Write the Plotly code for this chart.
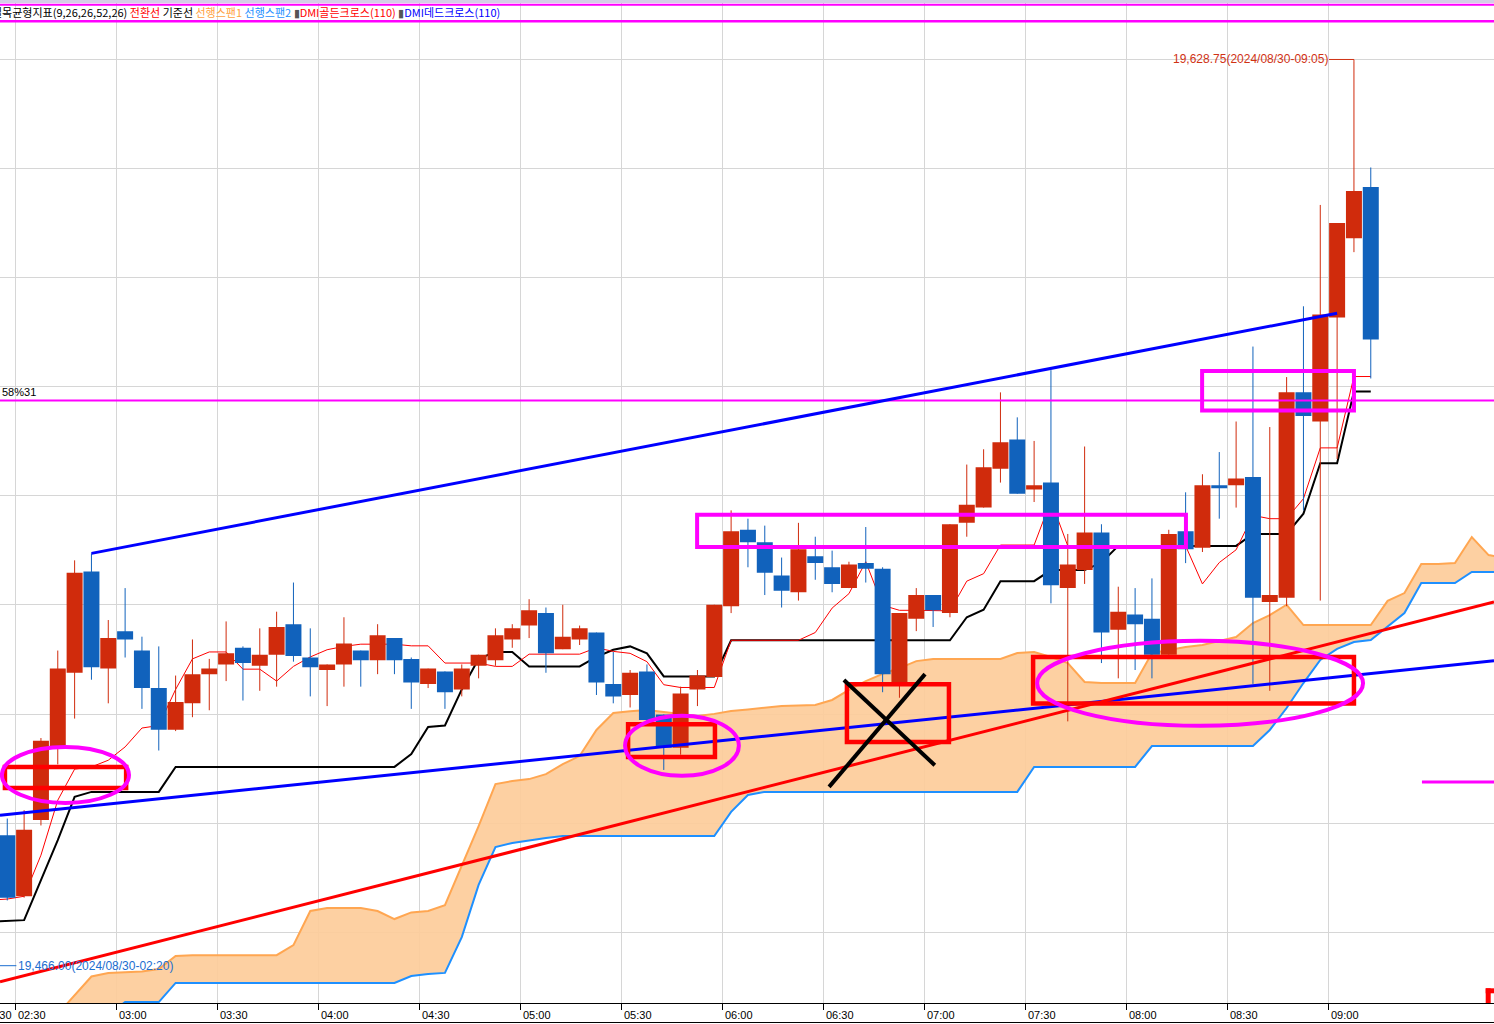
import plotly.graph_objects as go


def clock_range(start, n, step=5):
    h, m = map(int, start.split(":"))
    base = h * 60 + m
    return [f"{(base + i * step) // 60:02d}:{(base + i * step) % 60:02d}" for i in range(n)]


# ---------------- data ----------------
candle_times = clock_range("02:20", 83)   # 02:20 ... 09:10 (5-minute candles)
opens = [
    19470.00, 19489.50, 19478.50, 19492.25, 19505.50, 19518.75, 19537.00, 19519.50, 19526.25, 19522.75,
    19516.00, 19508.50, 19513.25, 19518.50, 19520.25, 19523.25, 19520.00, 19522.00, 19527.50, 19521.50,
    19519.25, 19520.25, 19522.75, 19521.00, 19525.00, 19521.25, 19516.75, 19519.00, 19515.75, 19520.00,
    19521.00, 19524.75, 19527.25, 19529.50, 19523.00, 19524.75, 19526.00, 19516.75, 19514.75, 19519.00,
    19511.25, 19505.25, 19515.75, 19518.00, 19530.75, 19544.50, 19542.25, 19536.25, 19533.25, 19539.75,
    19537.75, 19534.00, 19538.50, 19537.50, 19517.00, 19528.50, 19532.75, 19529.50, 19545.75, 19548.50,
    19555.50, 19560.75, 19551.75, 19553.00, 19534.00, 19537.25, 19544.00, 19526.50, 19529.25, 19528.50,
    19522.00, 19544.25, 19541.25, 19552.50, 19552.50, 19554.00, 19531.50, 19532.25, 19569.25, 19564.00,
    19582.75, 19597.00, 19606.25]
highs = [
    19480.25, 19492.50, 19494.00, 19507.00, 19522.75, 19539.00, 19540.25, 19528.25, 19534.00, 19525.25,
    19523.50, 19518.25, 19524.75, 19521.25, 19528.00, 19523.50, 19526.75, 19529.75, 19535.00, 19526.75,
    19520.25, 19528.75, 19522.75, 19527.50, 19525.00, 19521.50, 19519.50, 19519.00, 19520.25, 19522.00,
    19526.75, 19527.50, 19532.00, 19530.50, 19531.00, 19527.25, 19526.00, 19522.50, 19519.25, 19520.25,
    19511.25, 19516.25, 19519.25, 19531.00, 19548.00, 19546.50, 19545.25, 19539.50, 19545.75, 19543.25,
    19540.75, 19538.75, 19545.00, 19537.75, 19529.50, 19534.00, 19532.75, 19545.50, 19556.25, 19559.00,
    19569.25, 19564.75, 19560.50, 19573.25, 19543.75, 19559.50, 19545.50, 19534.25, 19534.00, 19535.75,
    19544.50, 19551.25, 19554.50, 19558.50, 19564.00, 19577.50, 19563.00, 19572.00, 19584.75, 19603.00,
    19599.75, 19628.75, 19609.75]
lows = [
    19466.00, 19477.75, 19478.25, 19491.25, 19502.25, 19510.50, 19517.50, 19513.25, 19521.50, 19512.25,
    19504.75, 19508.25, 19510.75, 19512.00, 19517.25, 19513.75, 19515.50, 19516.25, 19520.75, 19514.50,
    19512.75, 19516.25, 19516.25, 19518.50, 19518.50, 19512.25, 19516.00, 19512.25, 19514.50, 19517.75,
    19520.00, 19523.25, 19525.00, 19518.75, 19523.00, 19523.75, 19514.75, 19513.25, 19512.50, 19509.50,
    19501.25, 19504.00, 19512.75, 19518.00, 19529.50, 19537.75, 19532.75, 19530.50, 19531.75, 19535.50,
    19533.25, 19534.00, 19535.00, 19515.25, 19514.25, 19526.25, 19527.00, 19528.75, 19543.25, 19548.50,
    19553.00, 19551.00, 19549.50, 19531.25, 19510.00, 19534.75, 19520.50, 19517.75, 19519.25, 19517.75,
    19522.00, 19538.50, 19540.50, 19546.50, 19548.50, 19516.75, 19515.50, 19530.75, 19548.00, 19531.75,
    19557.25, 19594.50, 19571.75]
closes = [
    19478.75, 19478.25, 19490.50, 19506.50, 19519.50, 19536.75, 19519.75, 19525.00, 19524.75, 19516.00,
    19508.50, 19513.50, 19518.50, 19519.50, 19522.25, 19520.50, 19522.00, 19527.00, 19521.75, 19519.75,
    19520.25, 19524.00, 19521.00, 19525.50, 19521.00, 19517.00, 19519.50, 19515.25, 19519.50, 19522.00,
    19525.50, 19526.75, 19530.00, 19522.25, 19525.25, 19526.75, 19517.00, 19514.50, 19518.75, 19510.25,
    19505.25, 19515.00, 19518.25, 19531.00, 19544.25, 19542.25, 19536.75, 19533.50, 19541.00, 19538.50,
    19534.75, 19538.25, 19537.50, 19518.50, 19529.50, 19532.75, 19530.00, 19545.50, 19549.00, 19555.75,
    19560.25, 19551.00, 19552.50, 19534.50, 19538.25, 19544.00, 19526.00, 19529.75, 19527.50, 19522.00,
    19543.75, 19541.00, 19552.50, 19552.00, 19553.75, 19532.25, 19532.75, 19569.25, 19565.00, 19583.25,
    19599.75, 19605.50, 19578.75]

line_times = clock_range("02:20", 83)     # conversion / base line points
tenkan = [
    19477.8,
    19478.0, 19478.5, 19485.9, 19495.8, 19501.4, 19501.8, 19503.0, 19505.4, 19508.8, 19509.25,
    19515.75, 19521.25, 19522.5, 19522.5, 19519.4, 19519.4, 19517.25, 19519.9, 19521.6, 19522.9,
    19523.5, 19523.9, 19523.9, 19523.9, 19523.6, 19523.6, 19520.5, 19520.5, 19520.5, 19519.9,
    19519.9, 19522.1, 19522.1, 19522.1, 19522.1, 19523.25, 19522.6, 19522.25, 19520.75, 19516.6,
    19516.1, 19516.1, 19516.1, 19524.6, 19524.6, 19524.6, 19524.6, 19524.6, 19526.0, 19530.4,
    19533.0, 19538.75, 19530.9, 19530.0, 19530.0, 19530.0, 19529.9, 19535.25, 19536.6, 19541.75,
    19541.75, 19541.75, 19549.75, 19541.6, 19541.6, 19541.6, 19541.6, 19541.6, 19541.6, 19541.6,
    19541.6, 19534.75, 19538.6, 19540.9, 19547.1, 19546.5, 19546.5, 19550.1, 19559.25, 19559.25,
    19572.1, 19572.1]
kijun = [
    19473.9,
    19474.05, 19474.2, 19481.4, 19488.6, 19496.4, 19497.3, 19497.3, 19497.3, 19497.3, 19497.3,
    19501.8, 19501.8, 19501.8, 19501.8, 19501.8, 19501.8, 19501.8, 19501.8, 19501.8, 19501.8,
    19501.8, 19501.8, 19501.8, 19501.8, 19504.1, 19509.0, 19509.25, 19515.75, 19521.25, 19522.5,
    19522.5, 19519.9, 19519.9, 19519.9, 19519.9, 19521.6, 19522.9, 19523.5, 19522.25, 19518.1,
    19518.1, 19518.1, 19518.1, 19524.6, 19524.6, 19524.6, 19524.6, 19524.6, 19524.6, 19524.6,
    19524.6, 19524.6, 19524.6, 19524.6, 19524.6, 19524.6, 19524.6, 19528.75, 19530.1, 19535.25,
    19535.25, 19535.25, 19537.25, 19537.25, 19537.25, 19538.6, 19541.6, 19541.6, 19541.6, 19541.6,
    19541.6, 19541.6, 19541.6, 19541.6, 19543.75, 19543.75, 19543.75, 19547.4, 19556.5, 19556.5,
    19569.4, 19569.4]

span_times = clock_range("02:40", 87)     # leading spans (shifted forward)
span1 = [
    19457.3, 19460.6, 19464.05, 19464.7, 19464.85, 19464.95, 19465.4, 19467.75, 19467.9, 19467.9,
    19467.9, 19467.9, 19467.9, 19467.9, 19469.7, 19475.85, 19476.4, 19476.4, 19476.4, 19475.85,
    19474.4, 19475.6, 19475.85, 19476.9, 19483.95, 19491.15, 19498.7, 19499.25, 19499.6, 19500.5,
    19502.3, 19503.75, 19508.45, 19511.5, 19511.8, 19512.05, 19511.7, 19511.35, 19510.95, 19511.35,
    19511.85, 19512.15, 19512.5, 19512.75, 19512.85, 19512.95, 19513.85, 19515.65, 19517.25, 19518.55,
    19519.6, 19520.85, 19521.25, 19521.25, 19521.25, 19521.25, 19521.25, 19522.3, 19522.5, 19521.6,
    19520.5, 19517.1, 19516.9, 19516.9, 19516.9, 19522.3, 19522.85, 19523.4, 19523.75, 19524.45,
    19525.2, 19527.7, 19529.15, 19531.0, 19527.35, 19527.35, 19527.35, 19527.35, 19527.35, 19531.7,
    19533.1, 19538.35, 19538.35, 19538.5, 19543.2, 19539.95, 19539.4]
span2 = [
    19452.6, 19453.5, 19455.3, 19457.1, 19459.45, 19459.45, 19459.45, 19462.9, 19462.9, 19462.9,
    19462.9, 19462.9, 19462.9, 19462.9, 19462.9, 19462.9, 19462.9, 19462.9, 19462.9, 19462.9,
    19462.9, 19464.15, 19464.5, 19464.7, 19471.15, 19480.55, 19487.35, 19488.1, 19488.6, 19489.0,
    19489.35, 19489.35, 19489.35, 19489.35, 19489.35, 19489.35, 19489.35, 19489.35, 19489.35, 19489.35,
    19493.7, 19496.75, 19497.3, 19497.3, 19497.3, 19497.3, 19497.3, 19497.3, 19497.3, 19497.3,
    19497.3, 19497.3, 19497.3, 19497.3, 19497.3, 19497.3, 19497.3, 19497.3, 19501.8, 19501.8,
    19501.8, 19501.8, 19501.8, 19501.8, 19501.8, 19505.55, 19505.55, 19505.55, 19505.55, 19505.55,
    19505.55, 19505.55, 19508.45, 19512.4, 19516.9, 19521.05, 19523.05, 19524.3, 19524.65, 19527.0,
    19529.5, 19534.9, 19534.9, 19534.9, 19536.9, 19536.9, 19536.9]

tick_labels = ["02:30", "03:00", "03:30", "04:00", "04:30", "05:00", "05:30", "06:00",
               "06:30", "07:00", "07:30", "08:00", "08:30", "09:00"]
date_label = "08/30"
high_value, high_time = 19628.75, "09:05"
low_value, low_time = 19466.00, "02:20"
level_value, level_text = 19567.8, "58%31"

# ---------------- helpers ----------------
ORIGIN = 2 * 60 + 30  # 02:30 as axis zero (minutes)


def tm(s, extra=0.0):
    h, m = map(int, s.split(":"))
    return h * 60 + m - ORIGIN + extra


def ctr(s):
    return tm(s, 2.5)


def hm(h, m):
    return h * 60 + m - ORIGIN


X_RANGE = [-4.663, 439.1]
Y_RANGE = [19459.28, 19639.91]
BODY_W = 4.75

RED = "#D02B0C"
BLUE = "#1162BC"

fig = go.Figure()

# cloud
sx = [ctr(t) for t in span_times]
fig.add_trace(go.Scatter(x=sx, y=span2, mode="lines", line=dict(color="#1E90FF", width=2),
                         hoverinfo="skip"))
fig.add_trace(go.Scatter(x=sx, y=span1, mode="lines", line=dict(color="#FFA651", width=2),
                         fill="tonexty", fillcolor="rgba(253,204,155,0.93)", hoverinfo="skip"))

# conversion & base lines
lx = [ctr(t) for t in line_times]
fig.add_trace(go.Scatter(x=lx, y=kijun, mode="lines", line=dict(color="#000000", width=2),
                         hoverinfo="skip"))
fig.add_trace(go.Scatter(x=lx, y=tenkan, mode="lines", line=dict(color="#FF0000", width=1),
                         hoverinfo="skip"))

# candles
for up, col in ((True, RED), (False, BLUE)):
    wx, wy, bx, by = [], [], [], []
    for t, o, h, l, c in zip(candle_times, opens, highs, lows, closes):
        if (c >= o) != up:
            continue
        x = ctr(t)
        wx += [x, x, None]
        wy += [l, h, None]
        lo, hi = min(o, c), max(o, c)
        if hi - lo < 0.3:
            hi = lo + 0.3
        x0, x1 = x - BODY_W / 2, x + BODY_W / 2
        bx += [x0, x1, x1, x0, x0, None]
        by += [lo, lo, hi, hi, lo, None]
    fig.add_trace(go.Scatter(x=wx, y=wy, mode="lines", line=dict(color=col, width=1),
                             hoverinfo="skip"))
    fig.add_trace(go.Scatter(x=bx, y=by, mode="lines", line=dict(color=col, width=0),
                             fill="toself", fillcolor=col, hoverinfo="skip"))

# high / low markers
hx = ctr(high_time)
fig.add_trace(go.Scatter(x=[hm(9, 0.1), hx, hx], y=[high_value + 0.45, high_value + 0.45, high_value],
                         mode="lines", line=dict(color="#D03214", width=1), hoverinfo="skip"))
fig.add_trace(go.Scatter(x=[ctr(low_time), hm(2, 30.2)], y=[low_value, low_value],
                         mode="lines", line=dict(color="#1C6ED0", width=1), hoverinfo="skip"))

shapes = []


def line(x0, y0, x1, y1, color, width):
    shapes.append(dict(type="line", xref="x", yref="y", x0=x0, y0=y0, x1=x1, y1=y1,
                       line=dict(color=color, width=width), layer="above"))


def rect(x0, y0, x1, y1, color, width, kind="rect"):
    shapes.append(dict(type=kind, xref="x", yref="y", x0=x0, y0=y0, x1=x1, y1=y1,
                       line=dict(color=color, width=width), fillcolor="rgba(0,0,0,0)", layer="above"))


# horizontal level lines
line(X_RANGE[0], level_value, X_RANGE[1], level_value, "#FF00FF", 2)
line(X_RANGE[0], 19639.05, X_RANGE[1], 19639.05, "#FF00FF", 2)
line(X_RANGE[0], 19636.1, X_RANGE[1], 19636.1, "#FF00FF", 2.5)
line(hm(9, 27.7), 19499.1, X_RANGE[1], 19499.1, "#FF00FF", 3)

# trend lines
line(hm(2, 52.5), 19540.25, hm(9, 2.5), 19583.5, "#0000FF", 3)
line(X_RANGE[0], 19493.1, X_RANGE[1], 19520.9, "#0000FF", 3)
line(X_RANGE[0], 19463.1, X_RANGE[1], 19531.5, "#FF0000", 3)

# boxes
rect(hm(2, 26.8), 19498.0, hm(3, 2.8), 19501.8, "#FF0000", 4.5)
rect(hm(5, 31.9), 19503.6, hm(5, 57.7), 19509.5, "#FF0000", 4.5)
rect(hm(6, 36.9), 19506.3, hm(7, 7.2), 19516.7, "#FF0000", 4.5)
rect(hm(7, 32.2), 19513.2, hm(9, 7.5), 19521.6, "#FF0000", 4.5)
rect(hm(5, 52.4), 19541.4, hm(8, 17.6), 19547.2, "#FF00FF", 4)
rect(hm(8, 22.4), 19566.0, hm(9, 7.5), 19573.1, "#FF00FF", 4)

# ellipses
rect(hm(2, 25.9), 19495.3, hm(3, 3.65), 19505.4, "#FF00FF", 4, "circle")
rect(hm(5, 31.0), 19500.2, hm(6, 4.8), 19511.0, "#FF00FF", 4, "circle")
rect(hm(7, 33.4), 19509.2, hm(9, 10.2), 19524.5, "#FF00FF", 4, "circle")

# X mark
line(hm(6, 31.6), 19498.2, hm(7, 0.1), 19518.5, "#000000", 4)
line(hm(6, 36.0), 19517.45, hm(7, 3.0), 19502.1, "#000000", 4)

# paper decorations
PH = 1003.0
shapes.append(dict(type="rect", xref="paper", yref="paper", x0=0, x1=1, y0=1 - 3 / PH, y1=1,
                   line=dict(width=0), fillcolor="#D4CEE6", layer="above"))
shapes.append(dict(type="line", xref="paper", yref="paper", x0=0, x1=1,
                   y0=1 - 1022.5 / PH, y1=1 - 1022.5 / PH, line=dict(color="#000000", width=1)))
shapes.append(dict(type="rect", xref="paper", yref="paper", x0=1485.7 / 1494, x1=1.0,
                   y0=1 - 993.3 / PH, y1=1 - 988.3 / PH, line=dict(width=0), fillcolor="#FF0000"))
shapes.append(dict(type="rect", xref="paper", yref="paper", x0=1485.7 / 1494, x1=1490.7 / 1494,
                   y0=1 - 1003 / PH, y1=1 - 988.3 / PH, line=dict(width=0), fillcolor="#FF0000"))

annotations = []
AX_FONT = dict(family="Liberation Sans, Arial, sans-serif", size=11, color="#000000")
for lab in tick_labels:
    annotations.append(dict(x=tm(lab), y=0, xref="x", yref="paper", text=lab, showarrow=False,
                            xanchor="left", yanchor="top", xshift=0, yshift=-4, font=AX_FONT))
annotations.append(dict(x=tm(tick_labels[0]), y=0, xref="x", yref="paper", text=date_label,
                        showarrow=False, xanchor="right", yanchor="top", xshift=-2, yshift=-4,
                        font=AX_FONT))

annotations.append(dict(x=hm(9, 0.0), y=high_value + 0.45, xref="x", yref="y",
                        text=f"{high_value:,.2f}(2024/08/30-{high_time})", showarrow=False,
                        xanchor="right", yanchor="middle", xshift=1,
                        font=dict(family="Liberation Sans, Arial", size=12, color="#D03214")))
annotations.append(dict(x=hm(2, 30.2), y=low_value, xref="x", yref="y",
                        text=f"{low_value:,.2f}(2024/08/30-{low_time})", showarrow=False,
                        xanchor="left", yanchor="middle",
                        font=dict(family="Liberation Sans, Arial", size=12, color="#1C6ED0")))
annotations.append(dict(x=0, y=level_value, xref="paper", yref="y", text=level_text,
                        showarrow=False, xanchor="left", yanchor="bottom", yshift=0,
                        font=dict(family="Liberation Sans, Arial", size=11, color="#000000")))

legend_text = ('<span style="color:#000000">일목균형지표(9,26,26,52,26)</span> '
               '<span style="color:#FF0000">전환선</span> '
               '<span style="color:#000000">기준선</span> '
               '<span style="color:#FFA040">선행스팬1</span> '
               '<span style="color:#1E90FF">선행스팬2</span> '
               '<span style="color:#555555">▮</span><span style="color:#FF0000">DMI골든크로스(110)</span> '
               '<span style="color:#555555">▮</span><span style="color:#0000FF">DMI데드크로스(110)</span>')
annotations.append(dict(x=0, y=1 - 12 / PH, xref="paper", yref="paper", text=legend_text,
                        showarrow=False, xanchor="left", yanchor="middle", xshift=-10,
                        font=dict(family="Noto Sans CJK KR, sans-serif", size=11, color="#000000")))

fig.update_layout(
    width=1494, height=1024,
    margin=dict(l=0, r=0, t=0, b=21, pad=0),
    paper_bgcolor="#FFFFFF", plot_bgcolor="#FFFFFF",
    showlegend=False,
    shapes=shapes, annotations=annotations,
    xaxis=dict(range=X_RANGE, tickvals=[tm(l) for l in tick_labels], showticklabels=False,
               showgrid=True, gridcolor="#D6D6D6", gridwidth=1, zeroline=False,
               showline=True, linecolor="#000000", linewidth=1,
               ticks="outside", ticklen=6, tickcolor="#000000", tickwidth=1, fixedrange=True),
    yaxis=dict(range=Y_RANGE, tick0=19629.2, dtick=19.648, showticklabels=False,
               showgrid=True, gridcolor="#D6D6D6", gridwidth=1, zeroline=False,
               showline=False, ticks="", fixedrange=True),
    hovermode=False,
)

fig.write_html("out.html", include_plotlyjs=True, full_html=True,
               config={"displayModeBar": False, "staticPlot": True},
               post_script="document.body.style.margin='0';document.body.style.overflow='hidden';")
